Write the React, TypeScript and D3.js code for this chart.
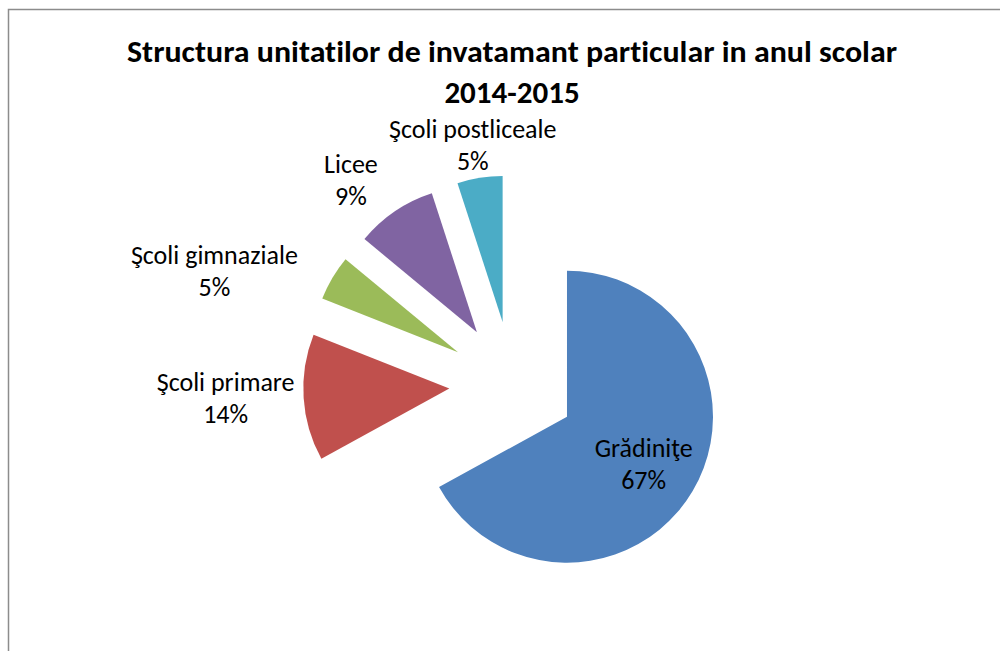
import React from "react";
import * as d3 from "d3";

const categories = ["Grădiniţe", "Şcoli primare", "Şcoli gimnaziale", "Licee", "Şcoli postliceale"];
const values = [67, 14, 5, 9, 5];
const colors = ["#4F81BD", "#C0504D", "#9BBB59", "#8064A2", "#4BACC6"];
const titleLines = ["Structura unitatilor de invatamant particular in anul scolar", "2014-2015"];

const W = 1000;
const H = 651;
const CX = 512.5;
const CY = 384.5;
const R = 146;
const EXPLODE = 63.3;
// label placement tweaks (relative to the outer arc point along the slice mid-angle)
const labelLayout: { inside: boolean; dx: number; dy: number }[] = [
  { inside: true, dx: 0, dy: 4 },
  { inside: false, dx: -78, dy: 2 },
  { inside: false, dx: -118, dy: -5 },
  { inside: false, dx: -44, dy: -29 },
  { inside: false, dx: -7, dy: -31 },
];

const FONT = "Carlito, Calibri, Lato, sans-serif";

export default function App() {
  const pie = d3.pie<number>().sort(null).value((d) => d);
  const arcs = pie(values);
  const arcGen = d3.arc<d3.PieArcDatum<number>>().innerRadius(0).outerRadius(R);
  const total = d3.sum(values);
  const fmt = (v: number) => `${Math.round((v / total) * 100)}%`;
  const textStyle = { fontVariantLigatures: "none" as const, fontFeatureSettings: '"liga" 0, "clig" 0' };

  return (
    <div style={{ position: "absolute", left: 0, top: 0, width: W, height: H, background: "#fff" }}>
      <svg width={W} height={H} style={{ display: "block" }}>
        <rect x={0} y={0} width={W} height={H} fill="#fff" />
        <path d={`M8.5,${H + 2} L8.5,9.5 L${W + 2},9.5`} fill="none" stroke="#8c8c8c" strokeWidth={1.5} />
        <text fontFamily={FONT} fontWeight="bold" fontSize={31} textAnchor="middle" fill="#000" style={textStyle}>
          <tspan x={512} y={62} textLength={770} lengthAdjust="spacingAndGlyphs">{titleLines[0]}</tspan>
          <tspan x={512} y={103}>{titleLines[1]}</tspan>
        </text>
        <g transform={`translate(${CX},${CY})`}>
          {arcs.map((a, i) => {
            const mid = (a.startAngle + a.endAngle) / 2;
            const ox = EXPLODE * Math.sin(mid);
            const oy = -EXPLODE * Math.cos(mid);
            return (
              <path key={i} d={arcGen(a) || ""} fill={colors[i]} transform={`translate(${ox},${oy})`} />
            );
          })}
          {arcs.map((a, i) => {
            const mid = (a.startAngle + a.endAngle) / 2;
            const ox = EXPLODE * Math.sin(mid);
            const oy = -EXPLODE * Math.cos(mid);
            const lay = labelLayout[i];
            let x: number, y: number;
            if (lay.inside) {
              const c = d3.arc<d3.PieArcDatum<number>>().innerRadius(0).outerRadius(R * 1.22).centroid(a);
              x = ox + c[0] + lay.dx;
              y = oy + c[1] + lay.dy;
            } else {
              x = ox + R * Math.sin(mid) + lay.dx;
              y = oy - R * Math.cos(mid) + lay.dy;
            }
            return (
              <text key={"l" + i} fontFamily={FONT} fontSize={26} textAnchor="middle" fill="#000" style={textStyle}>
                <tspan x={x} y={y - 9}>{categories[i]}</tspan>
                <tspan x={x} y={y + 23}>{fmt(values[i])}</tspan>
              </text>
            );
          })}
        </g>
      </svg>
    </div>
  );
}
